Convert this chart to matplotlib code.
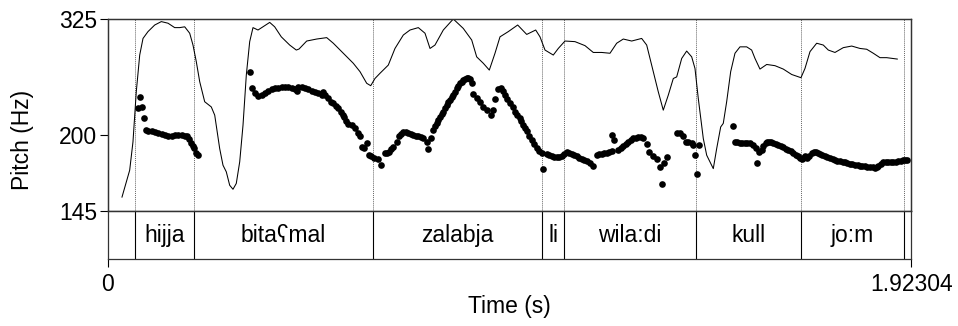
import matplotlib
matplotlib.use("Agg")
import matplotlib.pyplot as plt

plt.rcParams['font.family'] = ['Liberation Sans', 'DejaVu Sans']

# ---------------- data ----------------
t_max = 1.92304

# pitch points per word (time s, pitch Hz)
hijja_t = [0.0732, 0.0773, 0.0828, 0.0869, 0.0917, 0.0972, 0.1053, 0.1132, 0.1211,
           0.1292, 0.1371, 0.1450, 0.1532, 0.1610, 0.1689, 0.1771, 0.1850, 0.1905,
           0.1953, 0.1993, 0.2034, 0.2065, 0.2106, 0.2168]
hijja_hz = [223.5, 234.0, 225.0, 214.3, 204.1, 203.5, 202.7, 202.2, 201.3,
            200.2, 199.6, 199.3, 199.3, 199.6, 199.6, 199.6, 199.3, 198.5,
            196.3, 193.5, 190.9, 189.0, 185.1, 183.8]

bitamal_t = [0.3405, 0.3460, 0.3525, 0.3604, 0.3685, 0.3764, 0.3843, 0.3924, 0.4003,
             0.4082, 0.4164, 0.4243, 0.4322, 0.4403, 0.4482, 0.4523, 0.4561, 0.4642,
             0.4721, 0.4800, 0.4882, 0.4961, 0.5040, 0.5121, 0.5159, 0.5200, 0.5279,
             0.5344, 0.5399, 0.5456, 0.5518, 0.5576, 0.5624, 0.5662, 0.5695, 0.5757,
             0.5839, 0.5918, 0.5997, 0.6038, 0.6093, 0.6140, 0.6198, 0.6253, 0.6301,
             0.6380, 0.6461, 0.6540]
bitamal_hz = [260.6, 243.6, 238.0, 235.3, 236.3, 238.6, 240.3, 242.0, 243.0,
              243.6, 244.0, 244.0, 244.0, 243.6, 242.0, 240.6, 244.6, 244.6,
              243.3, 242.0, 240.3, 239.0, 238.0, 236.3, 239.6, 236.3, 233.0,
              229.7, 228.1, 225.5, 223.4, 220.3, 217.3, 215.8, 211.4, 209.3,
              208.4, 205.6, 201.3, 198.5, 190.3, 189.0, 193.1, 183.8, 182.5,
              181.2, 180.7, 176.3]

zalabja_t = [0.6636, 0.6684, 0.6739, 0.6779, 0.6834, 0.6916, 0.6978, 0.7019, 0.7074,
             0.7133, 0.7193, 0.7253, 0.7313, 0.7373, 0.7433, 0.7492, 0.7552, 0.7634,
             0.7672, 0.7729, 0.7791, 0.7832, 0.7873, 0.7911, 0.7952, 0.7993, 0.8031,
             0.8071, 0.8112, 0.8151, 0.8191, 0.8232, 0.8270, 0.8311, 0.8352, 0.8390,
             0.8430, 0.8471, 0.8509, 0.8550, 0.8591, 0.8629, 0.8670, 0.8711, 0.8749,
             0.8830, 0.8909, 0.8988, 0.9069, 0.9165, 0.9213, 0.9268, 0.9347, 0.9404,
             0.9455, 0.9507, 0.9567, 0.9627, 0.9687, 0.9747, 0.9806, 0.9866, 0.9897,
             0.9931, 0.9979, 1.0027, 1.0086, 1.0146, 1.0206, 1.0266, 1.0326, 1.0386,
             1.0409]
zalabja_hz = [185.1, 185.4, 185.9, 188.3, 190.3, 194.3, 198.5, 200.7, 202.2,
              201.9, 201.3, 200.7, 199.9, 199.1, 198.5, 197.8, 197.1, 194.3,
              188.5, 197.1, 204.1, 207.1, 209.9, 212.8, 215.8, 218.2, 220.3,
              223.5, 226.6, 229.0, 231.4, 233.8, 236.3, 239.6, 243.0, 245.6,
              248.5, 250.0, 251.6, 252.9, 254.1, 253.7, 252.7, 248.1, 237.0,
              233.1, 229.2, 225.0, 221.9, 217.3, 221.9, 232.1, 242.0, 243.0,
              239.8, 236.3, 232.4, 228.2, 224.2, 220.3, 217.3, 214.3, 211.4,
              208.4, 205.6, 202.7, 199.1, 195.7, 192.5, 189.0, 186.9, 185.1,
              173.1]

wiladi_t = [1.0505, 1.0560, 1.0625, 1.0680, 1.0744, 1.0800, 1.0864, 1.0919, 1.0984,
            1.1039, 1.1103, 1.1158, 1.1223, 1.1278, 1.1343, 1.1398, 1.1462, 1.1541,
            1.1620, 1.1701, 1.1756, 1.1821, 1.1876, 1.1941, 1.1996, 1.2060, 1.2075,
            1.2123, 1.2219, 1.2283, 1.2338, 1.2403, 1.2458, 1.2523, 1.2578, 1.2642,
            1.2697, 1.2762, 1.2817, 1.2898, 1.2960, 1.3056, 1.3152, 1.3216, 1.3257,
            1.3312, 1.3377, 1.3616, 1.3695, 1.3774, 1.3831, 1.3893, 1.3975, 1.4013,
            1.4054, 1.4102, 1.4157]
wiladi_hz = [184.6, 183.8, 183.0, 182.2, 182.0, 182.2, 182.5, 184.2, 185.6,
             185.4, 184.6, 183.4, 182.5, 181.6, 180.5, 180.0, 179.4, 177.5,
             175.1, 183.8, 184.2, 184.6, 185.0, 185.1, 185.8, 186.4, 199.9,
             195.7, 187.7, 189.3, 190.9, 192.5, 194.3, 195.7, 197.1, 197.6,
             197.9, 197.8, 197.1, 192.5, 185.6, 183.0, 180.5, 174.6, 162.7,
             177.5, 182.0, 201.3, 201.3, 198.5, 194.3, 193.8, 193.1, 191.7,
             183.8, 169.3, 191.7]

kulljom_t = [1.4956, 1.5011, 1.5071, 1.5131, 1.5190, 1.5250, 1.5310, 1.5370, 1.5449,
             1.5514, 1.5545, 1.5593, 1.5650, 1.5688, 1.5753, 1.5789, 1.5832, 1.5873,
             1.5928, 1.5988, 1.6047, 1.6107, 1.6167, 1.6227, 1.6287, 1.6347, 1.6406,
             1.6466, 1.6526, 1.6567, 1.6607, 1.6646, 1.6686, 1.6741, 1.6794, 1.6847,
             1.6897, 1.6950, 1.6998, 1.7045, 1.7105, 1.7165, 1.7225, 1.7284, 1.7345,
             1.7404, 1.7464, 1.7524, 1.7584, 1.7643, 1.7703, 1.7763, 1.7823, 1.7883,
             1.7943, 1.8002, 1.8062, 1.8122, 1.8182, 1.8242, 1.8302, 1.8362, 1.8402,
             1.8441, 1.8500, 1.8560, 1.8620, 1.8680, 1.8740, 1.8800, 1.8859, 1.8919,
             1.8979, 1.9039, 1.9079, 1.9120]
kulljom_hz = [207.6, 194.3, 193.9, 193.5, 193.3, 193.0, 193.0, 193.0, 191.7,
              189.0, 177.5, 185.6, 187.2, 190.9, 193.5, 194.1, 194.3, 194.1,
              193.0, 192.5, 191.7, 190.9, 189.8, 188.6, 187.7, 186.4, 185.1,
              183.8, 182.5, 181.2, 180.5, 181.2, 182.5, 181.2, 183.0, 185.1,
              185.6, 185.6, 185.1, 184.6, 183.8, 183.0, 182.0, 181.2, 180.5,
              180.0, 179.4, 178.8, 178.5, 178.0, 177.5, 177.0, 176.8, 176.3,
              176.1, 175.6, 175.3, 175.1, 174.8, 174.6, 174.3, 174.1, 174.6,
              175.6, 176.8, 178.0, 178.0, 178.0, 178.3, 178.3, 178.5, 178.8,
              179.1, 179.6, 179.8, 180.0]

pitch_segments = [(hijja_t, hijja_hz), (bitamal_t, bitamal_hz), (zalabja_t, zalabja_hz),
                  (wiladi_t, wiladi_hz), (kulljom_t, kulljom_hz)]

# intensity contour (s, dB)
inten_t = [0.0342, 0.0445, 0.0526, 0.0605, 0.0684, 0.0766, 0.0845, 0.0964, 0.1125,
           0.1283, 0.1443, 0.1603, 0.1723, 0.1843, 0.1962, 0.2041, 0.2120, 0.2202,
           0.2321, 0.2479, 0.2561, 0.2680, 0.2759, 0.2838, 0.2919, 0.2998, 0.3077,
           0.3159, 0.3238, 0.3317, 0.3398, 0.3477, 0.3597, 0.3716, 0.3877, 0.3996,
           0.4154, 0.4355, 0.4513, 0.4578, 0.4762, 0.5001, 0.5241, 0.5399, 0.5638,
           0.5877, 0.6038, 0.6198, 0.6294, 0.6396, 0.6516, 0.6715, 0.6875, 0.7074,
           0.7234, 0.7433, 0.7593, 0.7713, 0.7832, 0.8031, 0.8270, 0.8509, 0.8711,
           0.8830, 0.8988, 0.9132, 0.9268, 0.9388, 0.9586, 0.9811, 1.0027, 1.0242,
           1.0345, 1.0465, 1.0663, 1.0783, 1.0943, 1.1182, 1.1422, 1.1620, 1.1821,
           1.2020, 1.2180, 1.2338, 1.2539, 1.2778, 1.2898, 1.3018, 1.3175, 1.3295,
           1.3415, 1.3535, 1.3616, 1.3736, 1.3855, 1.3975, 1.4054, 1.4133, 1.4253,
           1.4334, 1.4413, 1.4492, 1.4573, 1.4669, 1.4731, 1.4812, 1.4908, 1.5011,
           1.5131, 1.5291, 1.5410, 1.5490, 1.5609, 1.5770, 1.5968, 1.6167, 1.6368,
           1.6590, 1.6686, 1.6806, 1.6966, 1.7124, 1.7244, 1.7404, 1.7603, 1.7804,
           1.8002, 1.8163, 1.8321, 1.8481, 1.8641, 1.8895]
inten_db = [40.8, 44.6, 47.5, 54.6, 67.1, 76.25, 80.4, 82.1, 83.75,
            84.6, 84.2, 83.1, 83.1, 83.3, 81.7, 78.75, 74.6, 69.6,
            64.6, 63.3, 61.25, 52.9, 48.75, 47.1, 43.75, 42.75, 44.2,
            49.6, 58.75, 71.25, 79.6, 83.1, 82.5, 83.3, 84.4, 83.3,
            80.8, 78.75, 77.5, 77.75, 79.75, 80.25, 80.6, 79.2, 76.7,
            74.2, 72.1, 69.2, 68.6, 70.4, 71.7, 73.75, 77.9, 81.25,
            82.5, 83.1, 81.7, 77.9, 78.75, 82.5, 85.25, 82.9, 80.0,
            75.8, 74.2, 72.5, 76.7, 80.8, 82.1, 83.75, 81.4, 82.5,
            80.8, 77.5, 76.25, 77.9, 79.75, 79.6, 78.6, 76.9, 76.9,
            76.7, 79.2, 80.25, 79.75, 80.4, 78.75, 73.75, 67.1, 62.5,
            66.25, 70.4, 70.8, 75.4, 77.25, 75.8, 72.9, 65.4, 55.4,
            51.25, 49.6, 47.9, 52.9, 58.3, 59.2, 64.6, 72.1, 76.7,
            78.3, 78.3, 77.5, 75.4, 72.75, 73.9, 73.6, 72.75, 71.4,
            70.6, 72.9, 77.1, 79.2, 78.75, 77.5, 76.9, 78.1, 78.5,
            77.9, 77.7, 76.7, 75.6, 75.6, 75.25]

# TextGrid tier
boundaries = [0.066, 0.206, 0.636, 1.039, 1.093, 1.407, 1.660, 1.905]
words = ["", "hijja", "bita\u0295mal", "zalabja", "li", "wila:di", "kull", "jo:m", ""]

pitch_ticks = [145, 200, 325]
pitch_range = (145, 325)
inten_range = (37.25, 85.25)

# ---------------- figure ----------------
W, H = 958, 326
fig = plt.figure(figsize=(W / 100, H / 100), dpi=100)

L, R = 107.7 / W, 911.3 / W
top_p, bot_p, bot_t = 1 - 19 / H, 1 - 211.3 / H, 1 - 259 / H

ax_p = fig.add_axes([L, bot_p, R - L, top_p - bot_p])
ax_t = fig.add_axes([L, bot_t, R - L, bot_p - bot_t])
ax_i = ax_p.twinx()

FS = 16.5

# pitch axes
ax_p.set_yscale('log')
ax_p.set_ylim(*pitch_range)
ax_p.set_xlim(0, t_max)
ax_p.set_yticks(pitch_ticks)
ax_p.set_yticklabels([str(v) for v in pitch_ticks], fontsize=FS)
ax_p.yaxis.set_minor_locator(matplotlib.ticker.NullLocator())
ax_p.tick_params(axis='y', direction='out', length=6, width=0.8, pad=1.5)
ax_p.set_xticks([])
for b in boundaries:
    ax_p.axvline(b, color='#666666', lw=0.7, ls=(0, (1, 1)), zorder=1)
for seg_t, seg_hz in pitch_segments:
    ax_p.plot(seg_t, seg_hz, 'o', color='black', ms=4.8, mew=0, zorder=3)

# intensity
ax_i.set_ylim(*inten_range)
ax_i.set_xlim(0, t_max)
ax_i.plot(inten_t, inten_db, color='black', lw=0.75, zorder=2)
ax_i.set_yticks([])
ax_i.set_xticks([])

for ax in (ax_p, ax_i):
    for s in ax.spines.values():
        s.set_linewidth(0.9)
        s.set_color('#333333')

# tier axes
ax_t.set_xlim(0, t_max)
ax_t.set_ylim(0, 1)
ax_t.set_yticks([])
ax_t.set_xticks([0, t_max])
ax_t.set_xticklabels(["0", "1.92304"], fontsize=FS)
ax_t.tick_params(axis='x', direction='out', length=6, width=0.8, pad=4)
for s in ax_t.spines.values():
    s.set_linewidth(0.9)
    s.set_color('#333333')
for b in boundaries:
    ax_t.axvline(b, color='black', lw=0.8)
edges = [0.0] + boundaries + [t_max]
for i, w in enumerate(words):
    if w:
        ax_t.text((edges[i] + edges[i + 1]) / 2, 0.5, w, ha='center', va='center',
                  fontsize=FS)

fig.text((L + R) / 2, 1 - 307 / H, "Time (s)", ha='center', va='center', fontsize=FS)
fig.text(22 / W, 1 - 140 / H, "Pitch (Hz)", ha='center', va='center',
         rotation=90, fontsize=FS)

fig.savefig("out.png", dpi=100)
